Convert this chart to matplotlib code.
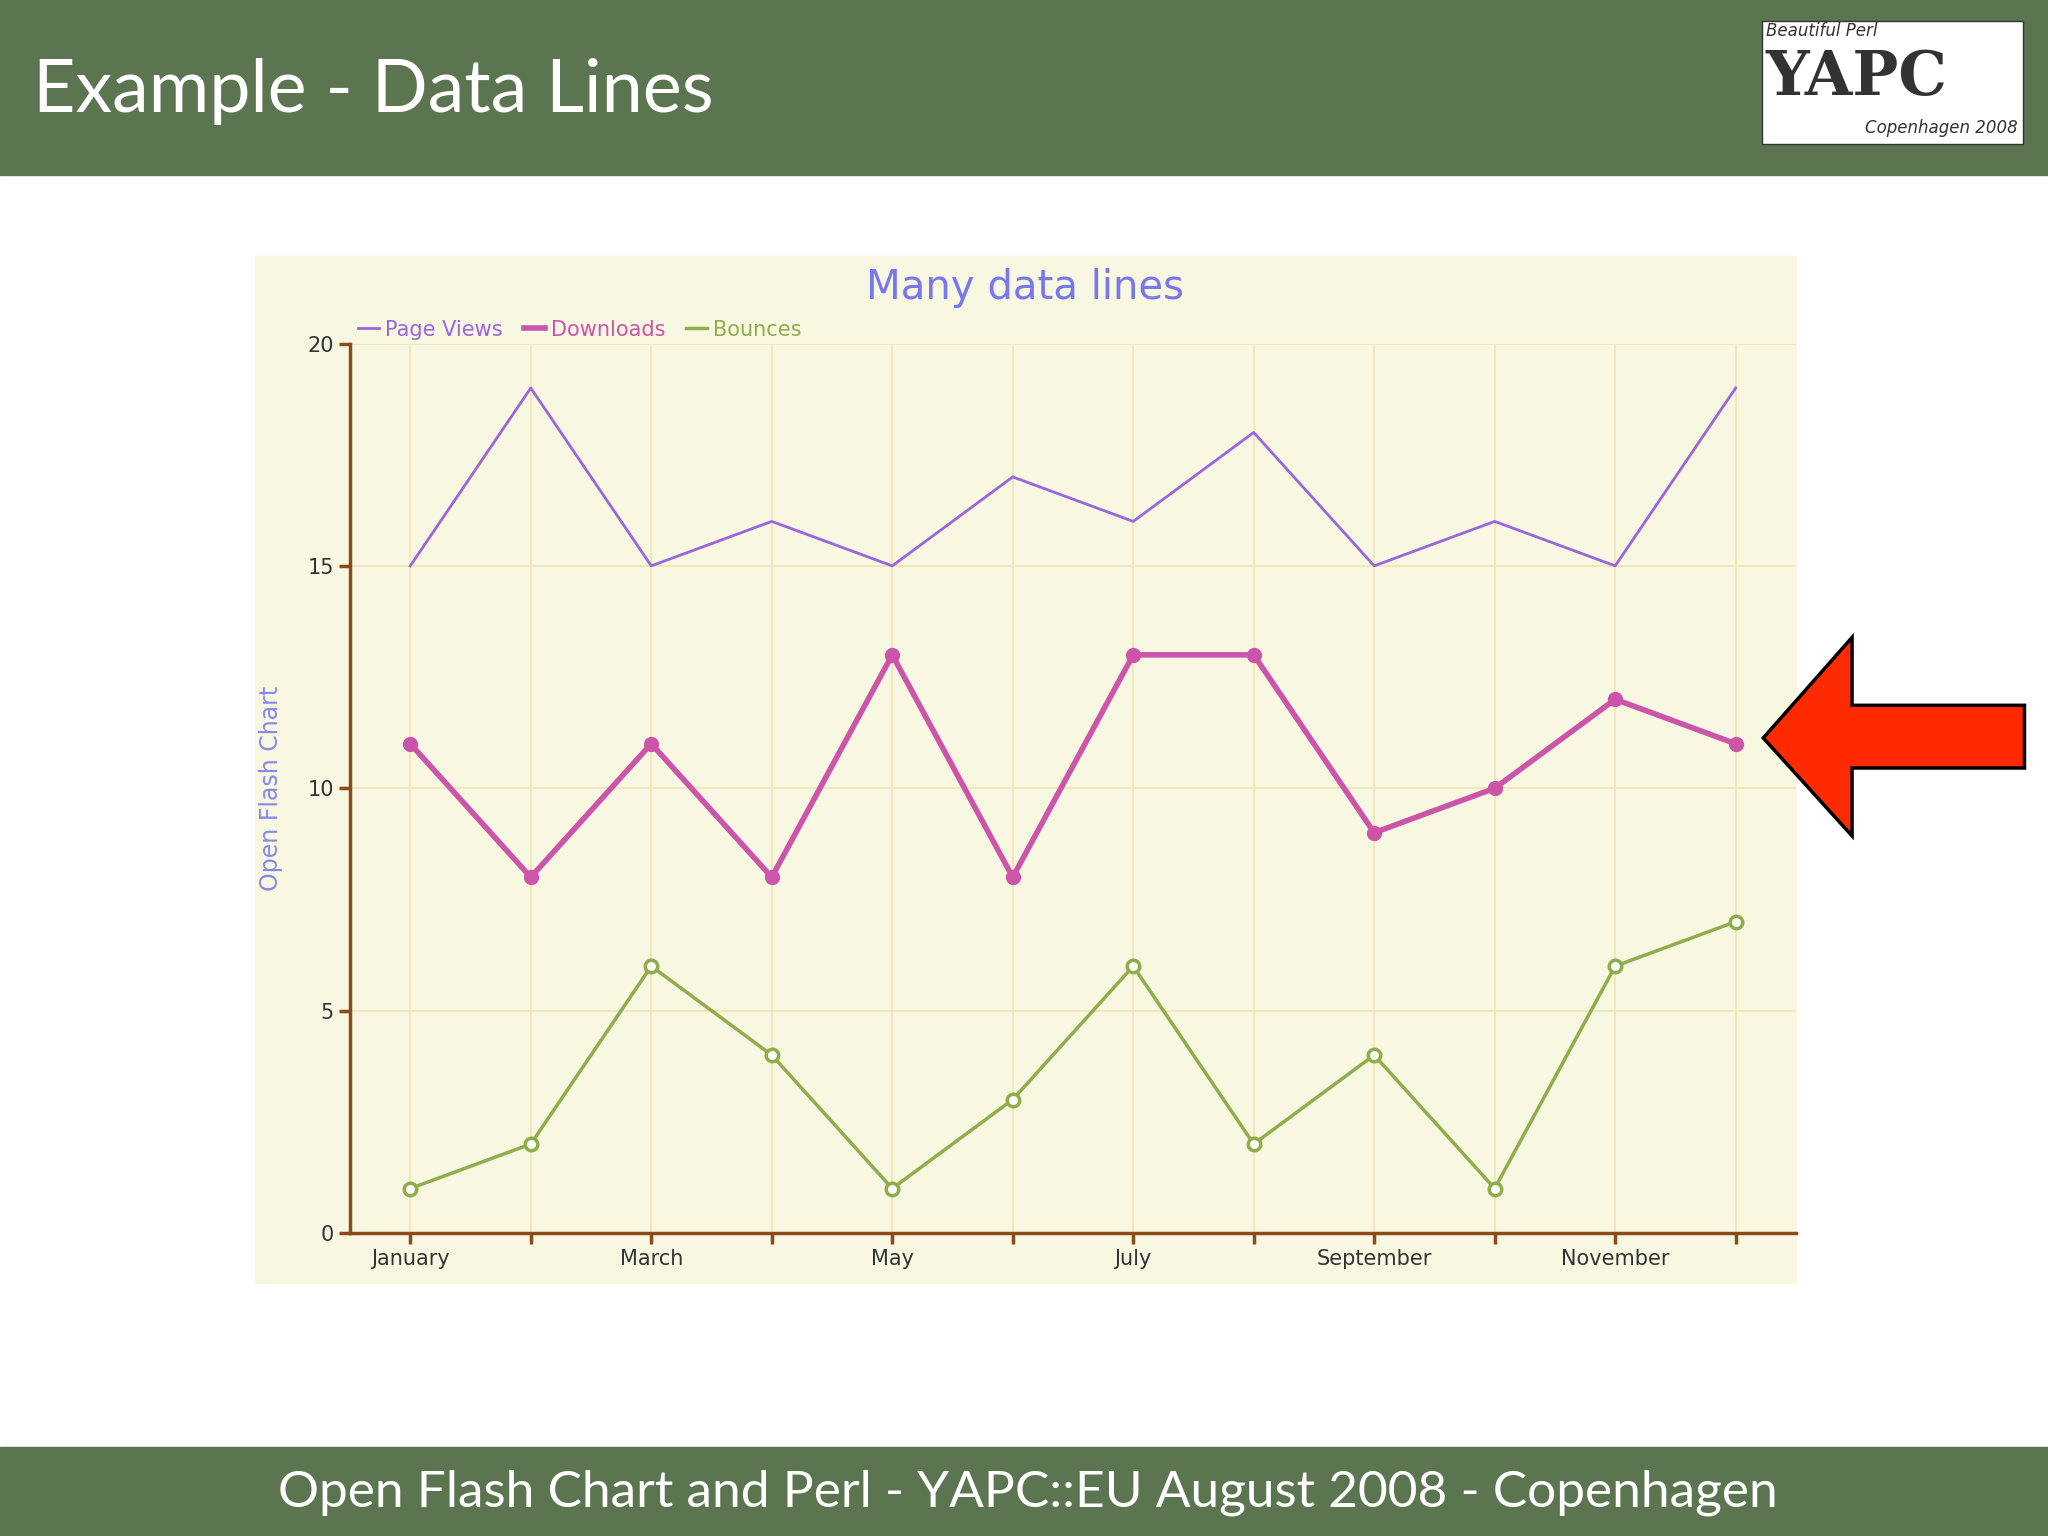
import matplotlib.pyplot as plt
from matplotlib.patches import Rectangle, Polygon

months = ['January', 'February', 'March', 'April', 'May', 'June', 'July',
          'August', 'September', 'October', 'November', 'December']
page_views = [15, 19, 15, 16, 15, 17, 16, 18, 15, 16, 15, 19]
downloads = [11, 8, 11, 8, 13, 8, 13, 13, 9, 10, 12, 11]
bounces = [1, 2, 6, 4, 1, 3, 6, 2, 4, 1, 6, 7]

W, H = 1568.0, 1176.0
def fx(x): return x / W
def fy(y): return 1 - y / H

fig = plt.figure(figsize=(20.48, 15.36), dpi=100)
fig.patch.set_facecolor('white')
green = '#5b7550'

# header and footer bands
fig.patches.append(Rectangle((0, fy(134)), 1, 134 / H, transform=fig.transFigure, color=green, zorder=-2))
fig.patches.append(Rectangle((0, 0), 1, 68 / H, transform=fig.transFigure, color=green, zorder=-2))
fig.text(fx(25), fy(70), 'Example - Data Lines', color='white', fontsize=53, va='center', family='Lato')
fig.text(fx(787), fy(1143), 'Open Flash Chart and Perl - YAPC::EU August 2008 - Copenhagen',
         color='white', fontsize=37, ha='center', va='center', family='Lato')

# logo
fig.patches.append(Rectangle((fx(1349), fy(110)), 200 / W, 94 / H, transform=fig.transFigure,
                             facecolor='white', edgecolor='#333333', zorder=-1))
fig.text(fx(1352), fy(24), 'Beautiful Perl', fontsize=12, style='italic', color='#333333', va='center')
fig.text(fx(1352), fy(60), 'YAPC', fontsize=44, weight='bold', color='#333333', va='center', family='DejaVu Serif')
fig.text(fx(1545), fy(98), 'Copenhagen 2008', fontsize=12, style='italic', color='#333333', va='center', ha='right')

# chart panel
fig.patches.append(Rectangle((fx(195), fy(982)), (1375 - 195) / W, (982 - 196) / H,
                             transform=fig.transFigure, color='#f8f8e2', zorder=-1))

ax = fig.add_axes([fx(268), fy(944), (1375 - 268) / W, (944 - 263) / H])
ax.set_facecolor('#f8f8e2')
x = list(range(len(months)))
ax.plot(x, page_views, color='#9966dd', lw=2, label='Page Views')
ax.plot(x, downloads, color='#cc55aa', lw=4, marker='o', ms=10, label='Downloads')
ax.plot(x, bounces, color='#8fad4a', lw=2.5, marker='o', ms=9, mfc='white', mew=2.5, label='Bounces')

ax.set_xlim(-0.5, 11.5)
ax.set_ylim(0, 20)
ax.set_xticks(x)
ax.set_xticklabels([m if i % 2 == 0 else '' for i, m in enumerate(months)])
ax.set_yticks([0, 5, 10, 15, 20])
ax.grid(True, color='#f0e4b0', lw=1.2)
ax.set_axisbelow(True)
axis_c = '#8b4a1a'
for s in ['top', 'right']:
    ax.spines[s].set_visible(False)
for s in ['left', 'bottom']:
    ax.spines[s].set_color(axis_c)
    ax.spines[s].set_linewidth(2.5)
ax.tick_params(colors=axis_c, width=2.5, length=8, labelsize=15, labelcolor='#333333')
ax.set_ylabel('Open Flash Chart', color='#8888ee', fontsize=17, labelpad=18)
ax.set_title('Many data lines', color='#7777ee', fontsize=29, pad=32, x=(785 - 268) / (1375 - 268))
ax.legend(loc='lower left', bbox_to_anchor=(0, 0.995), ncol=3, frameon=False, fontsize=15,
          handlelength=1.0, columnspacing=1.0, handletextpad=0.3, labelcolor='linecolor',
          borderaxespad=0)
leg = ax.get_legend()
for h in leg.legend_handles:
    h.set_marker('')

# red arrow
pts = [(1350, 565), (1418, 488), (1418, 540), (1550, 540), (1550, 588), (1418, 588), (1418, 640)]
fig.patches.append(Polygon([(fx(a), fy(b)) for a, b in pts], closed=True, transform=fig.transFigure,
                           facecolor='#ff2a00', edgecolor='black', lw=2.5, zorder=5))

fig.savefig('out.png', dpi=100)
